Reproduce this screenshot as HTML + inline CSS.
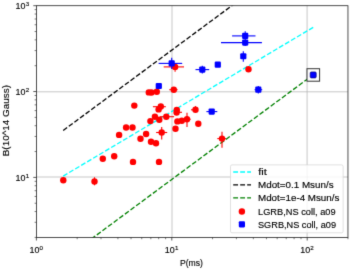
<!DOCTYPE html>
<html><head><meta charset="utf-8"><style>html,body{margin:0;padding:0;background:#fff;width:350px;height:269px;overflow:hidden}svg{display:block}</style></head>
<body>
<svg width="350" height="269" viewBox="0 0 350 269">
<defs><filter id="bl" filterUnits="userSpaceOnUse" x="0" y="0" width="350" height="269" color-interpolation-filters="sRGB"><feConvolveMatrix order="3" kernelMatrix="0.01134 0.08382 0.01134 0.08382 0.61935 0.08382 0.01134 0.08382 0.01134" edgeMode="duplicate"/></filter></defs>
<rect width="350" height="269" fill="#fff"/>
<g filter="url(#bl)">
<rect width="350" height="269" fill="#fff"/>
<defs><clipPath id="ax"><rect x="36.40" y="5.70" width="311.56" height="231.71"/></clipPath></defs>
<line x1="172.00" y1="5.70" x2="172.00" y2="237.41" stroke="#b0b0b0" stroke-width="0.7"/>
<line x1="307.10" y1="5.70" x2="307.10" y2="237.41" stroke="#b0b0b0" stroke-width="0.7"/>
<line x1="36.40" y1="91.80" x2="347.96" y2="91.80" stroke="#b0b0b0" stroke-width="0.7"/>
<line x1="36.40" y1="177.00" x2="347.96" y2="177.00" stroke="#b0b0b0" stroke-width="0.7"/>
<g clip-path="url(#ax)">
<line x1="63.2" y1="176.1" x2="313.3" y2="27.3" stroke="#00ffff" stroke-width="1.3" stroke-dasharray="4.87,2.107"/>
<line x1="63.2" y1="130.45" x2="239.55" y2="0" stroke="#000" stroke-width="1.3" stroke-dasharray="4.87,2.107"/>
<line x1="63.2" y1="259.75" x2="313.3" y2="74.75" stroke="#008000" stroke-width="1.3" stroke-dasharray="4.87,2.107"/>
</g>
<line x1="191" y1="109.8" x2="195.5" y2="109.8" stroke="#ff0000" stroke-width="1.1"/>
<line x1="217.3" y1="138.6" x2="226" y2="138.6" stroke="#ff0000" stroke-width="1.1"/>
<line x1="152.9" y1="106.7" x2="165.8" y2="106.7" stroke="#ff0000" stroke-width="1.1"/>
<line x1="163.7" y1="66.9" x2="184" y2="66.9" stroke="#ff0000" stroke-width="1.1"/>
<line x1="156.1" y1="132.5" x2="167.2" y2="132.5" stroke="#ff0000" stroke-width="1.1"/>
<line x1="160" y1="116.7" x2="174.1" y2="116.7" stroke="#ff0000" stroke-width="1.1"/>
<line x1="176.8" y1="112.3" x2="182" y2="112.3" stroke="#ff0000" stroke-width="1.1"/>
<line x1="183.6" y1="119.2" x2="190.7" y2="119.2" stroke="#ff0000" stroke-width="1.1"/>
<line x1="169.3" y1="89.7" x2="177.6" y2="89.7" stroke="#ff0000" stroke-width="1.1"/>
<line x1="94.5" y1="177.3" x2="94.5" y2="185.3" stroke="#ff0000" stroke-width="1.1"/>
<line x1="161.7" y1="126.9" x2="161.7" y2="139.6" stroke="#ff0000" stroke-width="1.1"/>
<line x1="187" y1="112.8" x2="187" y2="126.9" stroke="#ff0000" stroke-width="1.1"/>
<line x1="222" y1="131.7" x2="222" y2="147.8" stroke="#ff0000" stroke-width="1.1"/>
<line x1="175.1" y1="66.9" x2="175.1" y2="71.7" stroke="#ff0000" stroke-width="1.1"/>
<line x1="195.5" y1="106.1" x2="195.5" y2="109.8" stroke="#ff0000" stroke-width="1.1"/>
<circle cx="63.3" cy="180.2" r="3.2" fill="#ff0000"/>
<circle cx="94.5" cy="181.5" r="3.2" fill="#ff0000"/>
<circle cx="102.8" cy="158.7" r="3.2" fill="#ff0000"/>
<circle cx="114.2" cy="156.2" r="3.2" fill="#ff0000"/>
<circle cx="133" cy="161.9" r="3.2" fill="#ff0000"/>
<circle cx="134.3" cy="105.6" r="3.2" fill="#ff0000"/>
<circle cx="126.1" cy="127.5" r="3.2" fill="#ff0000"/>
<circle cx="132.5" cy="127.5" r="3.2" fill="#ff0000"/>
<circle cx="119.1" cy="134.9" r="3.2" fill="#ff0000"/>
<circle cx="140.5" cy="138.7" r="3.2" fill="#ff0000"/>
<circle cx="146.1" cy="134" r="3.2" fill="#ff0000"/>
<circle cx="159" cy="161.9" r="3.2" fill="#ff0000"/>
<circle cx="151.0" cy="141.8" r="3.2" fill="#ff0000"/>
<circle cx="156.0" cy="143.3" r="3.2" fill="#ff0000"/>
<circle cx="161.7" cy="132.5" r="3.2" fill="#ff0000"/>
<circle cx="154.9" cy="116.7" r="3.2" fill="#ff0000"/>
<circle cx="159.3" cy="119.7" r="3.2" fill="#ff0000"/>
<circle cx="150.4" cy="121.1" r="3.2" fill="#ff0000"/>
<circle cx="166.3" cy="116.7" r="3.2" fill="#ff0000"/>
<circle cx="160.8" cy="106.5" r="3.2" fill="#ff0000"/>
<circle cx="158.6" cy="109.4" r="3.2" fill="#ff0000"/>
<circle cx="176.8" cy="110.0" r="3.2" fill="#ff0000"/>
<circle cx="176.6" cy="112.5" r="3.2" fill="#ff0000"/>
<circle cx="177.4" cy="121.4" r="3.2" fill="#ff0000"/>
<circle cx="181.8" cy="120.8" r="3.2" fill="#ff0000"/>
<circle cx="187" cy="119.2" r="3.2" fill="#ff0000"/>
<circle cx="175.5" cy="128.8" r="3.2" fill="#ff0000"/>
<circle cx="195.5" cy="109.7" r="3.2" fill="#ff0000"/>
<circle cx="198.3" cy="123.7" r="3.2" fill="#ff0000"/>
<circle cx="222" cy="138.6" r="3.2" fill="#ff0000"/>
<circle cx="175.1" cy="66.9" r="3.2" fill="#ff0000"/>
<circle cx="173.8" cy="89.7" r="3.2" fill="#ff0000"/>
<circle cx="148.8" cy="92.4" r="3.2" fill="#ff0000"/>
<circle cx="151.5" cy="92.5" r="3.2" fill="#ff0000"/>
<circle cx="156.8" cy="91.8" r="3.2" fill="#ff0000"/>
<circle cx="248.5" cy="69.2" r="3.2" fill="#ff0000"/>
<line x1="254.6" y1="89.7" x2="262.2" y2="89.7" stroke="#0000ff" stroke-width="1.1"/>
<line x1="158.6" y1="63.4" x2="182.2" y2="63.4" stroke="#0000ff" stroke-width="1.1"/>
<line x1="195.5" y1="69.6" x2="209.2" y2="69.6" stroke="#0000ff" stroke-width="1.1"/>
<line x1="232.1" y1="35.9" x2="255.5" y2="35.9" stroke="#0000ff" stroke-width="1.1"/>
<line x1="221" y1="42.6" x2="261.9" y2="42.6" stroke="#0000ff" stroke-width="1.1"/>
<line x1="206.4" y1="111.6" x2="217.3" y2="111.6" stroke="#0000ff" stroke-width="1.1"/>
<line x1="202.3" y1="65.8" x2="202.3" y2="73.4" stroke="#0000ff" stroke-width="1.1"/>
<line x1="258.3" y1="86.0" x2="258.3" y2="93.4" stroke="#0000ff" stroke-width="1.1"/>
<line x1="171.7" y1="57.8" x2="171.7" y2="68.9" stroke="#0000ff" stroke-width="1.1"/>
<line x1="245.2" y1="31.25" x2="245.2" y2="46.1" stroke="#0000ff" stroke-width="1.1"/>
<line x1="243.3" y1="51.3" x2="243.3" y2="61.8" stroke="#0000ff" stroke-width="1.1"/>
<rect x="307.0" y="68.7" width="12.6" height="12.5" fill="#fff" stroke="#333" stroke-width="1.0"/>
<rect x="310.20" y="71.95" width="6.0" height="6.0" rx="1.1" fill="#0000ff" stroke="#00007a" stroke-width="0.7"/>
<rect x="168.60" y="60.30" width="6.2" height="6.2" rx="1.1" fill="#0000ff"/>
<rect x="199.20" y="66.50" width="6.2" height="6.2" rx="1.1" fill="#0000ff"/>
<rect x="214.70" y="61.60" width="6.2" height="6.2" rx="1.1" fill="#0000ff"/>
<rect x="242.10" y="32.80" width="6.2" height="6.2" rx="1.1" fill="#0000ff"/>
<rect x="242.10" y="39.50" width="6.2" height="6.2" rx="1.1" fill="#0000ff"/>
<rect x="240.20" y="53.15" width="6.2" height="6.2" rx="1.1" fill="#0000ff"/>
<rect x="255.20" y="86.60" width="6.2" height="6.2" rx="1.1" fill="#0000ff"/>
<rect x="208.60" y="108.50" width="6.2" height="6.2" rx="1.1" fill="#0000ff"/>
<rect x="155.70" y="82.90" width="6.2" height="6.2" rx="1.1" fill="#0000ff"/>
<line x1="36.40" y1="237.41" x2="36.40" y2="240.51" stroke="#222" stroke-width="0.75"/>
<line x1="171.80" y1="237.41" x2="171.80" y2="240.51" stroke="#222" stroke-width="0.75"/>
<line x1="307.20" y1="237.41" x2="307.20" y2="240.51" stroke="#222" stroke-width="0.75"/>
<line x1="77.16" y1="237.41" x2="77.16" y2="239.21" stroke="#222" stroke-width="0.6"/>
<line x1="101.00" y1="237.41" x2="101.00" y2="239.21" stroke="#222" stroke-width="0.6"/>
<line x1="117.92" y1="237.41" x2="117.92" y2="239.21" stroke="#222" stroke-width="0.6"/>
<line x1="131.04" y1="237.41" x2="131.04" y2="239.21" stroke="#222" stroke-width="0.6"/>
<line x1="141.76" y1="237.41" x2="141.76" y2="239.21" stroke="#222" stroke-width="0.6"/>
<line x1="150.83" y1="237.41" x2="150.83" y2="239.21" stroke="#222" stroke-width="0.6"/>
<line x1="158.68" y1="237.41" x2="158.68" y2="239.21" stroke="#222" stroke-width="0.6"/>
<line x1="165.60" y1="237.41" x2="165.60" y2="239.21" stroke="#222" stroke-width="0.6"/>
<line x1="212.56" y1="237.41" x2="212.56" y2="239.21" stroke="#222" stroke-width="0.6"/>
<line x1="236.40" y1="237.41" x2="236.40" y2="239.21" stroke="#222" stroke-width="0.6"/>
<line x1="253.32" y1="237.41" x2="253.32" y2="239.21" stroke="#222" stroke-width="0.6"/>
<line x1="266.44" y1="237.41" x2="266.44" y2="239.21" stroke="#222" stroke-width="0.6"/>
<line x1="277.16" y1="237.41" x2="277.16" y2="239.21" stroke="#222" stroke-width="0.6"/>
<line x1="286.23" y1="237.41" x2="286.23" y2="239.21" stroke="#222" stroke-width="0.6"/>
<line x1="294.08" y1="237.41" x2="294.08" y2="239.21" stroke="#222" stroke-width="0.6"/>
<line x1="301.00" y1="237.41" x2="301.00" y2="239.21" stroke="#222" stroke-width="0.6"/>
<line x1="347.96" y1="237.41" x2="347.96" y2="239.21" stroke="#222" stroke-width="0.6"/>
<line x1="33.30" y1="177.40" x2="36.40" y2="177.40" stroke="#222" stroke-width="0.75"/>
<line x1="33.30" y1="91.55" x2="36.40" y2="91.55" stroke="#222" stroke-width="0.75"/>
<line x1="33.30" y1="5.70" x2="36.40" y2="5.70" stroke="#222" stroke-width="0.75"/>
<line x1="34.60" y1="237.41" x2="36.40" y2="237.41" stroke="#222" stroke-width="0.6"/>
<line x1="34.60" y1="222.29" x2="36.40" y2="222.29" stroke="#222" stroke-width="0.6"/>
<line x1="34.60" y1="211.56" x2="36.40" y2="211.56" stroke="#222" stroke-width="0.6"/>
<line x1="34.60" y1="203.24" x2="36.40" y2="203.24" stroke="#222" stroke-width="0.6"/>
<line x1="34.60" y1="196.45" x2="36.40" y2="196.45" stroke="#222" stroke-width="0.6"/>
<line x1="34.60" y1="190.70" x2="36.40" y2="190.70" stroke="#222" stroke-width="0.6"/>
<line x1="34.60" y1="185.72" x2="36.40" y2="185.72" stroke="#222" stroke-width="0.6"/>
<line x1="34.60" y1="181.33" x2="36.40" y2="181.33" stroke="#222" stroke-width="0.6"/>
<line x1="34.60" y1="151.56" x2="36.40" y2="151.56" stroke="#222" stroke-width="0.6"/>
<line x1="34.60" y1="136.44" x2="36.40" y2="136.44" stroke="#222" stroke-width="0.6"/>
<line x1="34.60" y1="125.71" x2="36.40" y2="125.71" stroke="#222" stroke-width="0.6"/>
<line x1="34.60" y1="117.39" x2="36.40" y2="117.39" stroke="#222" stroke-width="0.6"/>
<line x1="34.60" y1="110.60" x2="36.40" y2="110.60" stroke="#222" stroke-width="0.6"/>
<line x1="34.60" y1="104.85" x2="36.40" y2="104.85" stroke="#222" stroke-width="0.6"/>
<line x1="34.60" y1="99.87" x2="36.40" y2="99.87" stroke="#222" stroke-width="0.6"/>
<line x1="34.60" y1="95.48" x2="36.40" y2="95.48" stroke="#222" stroke-width="0.6"/>
<line x1="34.60" y1="65.71" x2="36.40" y2="65.71" stroke="#222" stroke-width="0.6"/>
<line x1="34.60" y1="50.59" x2="36.40" y2="50.59" stroke="#222" stroke-width="0.6"/>
<line x1="34.60" y1="39.86" x2="36.40" y2="39.86" stroke="#222" stroke-width="0.6"/>
<line x1="34.60" y1="31.54" x2="36.40" y2="31.54" stroke="#222" stroke-width="0.6"/>
<line x1="34.60" y1="24.75" x2="36.40" y2="24.75" stroke="#222" stroke-width="0.6"/>
<line x1="34.60" y1="19.00" x2="36.40" y2="19.00" stroke="#222" stroke-width="0.6"/>
<line x1="34.60" y1="14.02" x2="36.40" y2="14.02" stroke="#222" stroke-width="0.6"/>
<line x1="34.60" y1="9.63" x2="36.40" y2="9.63" stroke="#222" stroke-width="0.6"/>
<rect x="36.40" y="5.70" width="311.56" height="231.71" fill="none" stroke="#222" stroke-width="0.8"/>
<rect x="230.5" y="164.9" width="112.6" height="67.9" rx="1.5" fill="#fff" fill-opacity="0.8" stroke="#d5d5d5" stroke-width="0.75"/>
<line x1="233.2" y1="172" x2="251" y2="172" stroke="#00ffff" stroke-width="1.3" stroke-dasharray="4.87,2.107"/>
<line x1="233.2" y1="184.8" x2="251" y2="184.8" stroke="#000" stroke-width="1.3" stroke-dasharray="4.87,2.107"/>
<line x1="233.2" y1="197.8" x2="251" y2="197.8" stroke="#008000" stroke-width="1.3" stroke-dasharray="4.87,2.107"/>
<circle cx="241.9" cy="211.5" r="3.2" fill="#ff0000"/>
<rect x="238.80" y="221.20" width="6.2" height="6.2" rx="1.1" fill="#0000ff"/>
<text x="258.2" y="175.0" font-size="9.3" text-anchor="start" font-family="Liberation Sans, sans-serif" fill="#000" stroke="#000" stroke-width="0.14" textLength="8.6" lengthAdjust="spacingAndGlyphs" >fit</text>
<text x="258.0" y="187.9" font-size="9.3" text-anchor="start" font-family="Liberation Sans, sans-serif" fill="#000" stroke="#000" stroke-width="0.14" textLength="75.6" lengthAdjust="spacingAndGlyphs" >Mdot=0.1 Msun/s</text>
<text x="258.0" y="200.9" font-size="9.3" text-anchor="start" font-family="Liberation Sans, sans-serif" fill="#000" stroke="#000" stroke-width="0.14" textLength="81.4" lengthAdjust="spacingAndGlyphs" >Mdot=1e-4 Msun/s</text>
<text x="258.0" y="214.6" font-size="9.3" text-anchor="start" font-family="Liberation Sans, sans-serif" fill="#000" stroke="#000" stroke-width="0.14" textLength="77.6" lengthAdjust="spacingAndGlyphs" >LGRB,NS coll, a09</text>
<text x="258.0" y="227.5" font-size="9.3" text-anchor="start" font-family="Liberation Sans, sans-serif" fill="#000" stroke="#000" stroke-width="0.14" textLength="78.0" lengthAdjust="spacingAndGlyphs" >SGRB,NS coll, a09</text>
<text x="191.5" y="265.8" font-size="9.3" text-anchor="middle" font-family="Liberation Sans, sans-serif" fill="#000" stroke="#000" stroke-width="0.14" textLength="23.0" lengthAdjust="spacingAndGlyphs" >P(ms)</text>
<text x="0" y="0" font-size="9.6" font-family="Liberation Sans, sans-serif" fill="#000" stroke="#000" stroke-width="0.14" text-anchor="middle" textLength="71.3" lengthAdjust="spacingAndGlyphs" transform="translate(9.3,120.6) rotate(-90)">B(10^14 Gauss)</text>
<text x="29.44" y="253" font-size="9.6" font-family="Liberation Sans, sans-serif" fill="#000" stroke="#000" stroke-width="0.14" textLength="9.93" lengthAdjust="spacingAndGlyphs">10</text>
<text x="39.52" y="250" font-size="6.2" font-family="Liberation Sans, sans-serif" fill="#000" stroke="#000" stroke-width="0.14">0</text>
<text x="164.84" y="253" font-size="9.6" font-family="Liberation Sans, sans-serif" fill="#000" stroke="#000" stroke-width="0.14" textLength="9.93" lengthAdjust="spacingAndGlyphs">10</text>
<text x="174.92" y="250" font-size="6.2" font-family="Liberation Sans, sans-serif" fill="#000" stroke="#000" stroke-width="0.14">1</text>
<text x="300.24" y="253" font-size="9.6" font-family="Liberation Sans, sans-serif" fill="#000" stroke="#000" stroke-width="0.14" textLength="9.93" lengthAdjust="spacingAndGlyphs">10</text>
<text x="310.32" y="250" font-size="6.2" font-family="Liberation Sans, sans-serif" fill="#000" stroke="#000" stroke-width="0.14">2</text>
<text x="15.57" y="181" font-size="9.6" font-family="Liberation Sans, sans-serif" fill="#000" stroke="#000" stroke-width="0.14" textLength="9.93" lengthAdjust="spacingAndGlyphs">10</text>
<text x="25.65" y="178" font-size="6.2" font-family="Liberation Sans, sans-serif" fill="#000" stroke="#000" stroke-width="0.14">1</text>
<text x="15.57" y="95" font-size="9.6" font-family="Liberation Sans, sans-serif" fill="#000" stroke="#000" stroke-width="0.14" textLength="9.93" lengthAdjust="spacingAndGlyphs">10</text>
<text x="25.65" y="92" font-size="6.2" font-family="Liberation Sans, sans-serif" fill="#000" stroke="#000" stroke-width="0.14">2</text>
<text x="15.57" y="9" font-size="9.6" font-family="Liberation Sans, sans-serif" fill="#000" stroke="#000" stroke-width="0.14" textLength="9.93" lengthAdjust="spacingAndGlyphs">10</text>
<text x="25.65" y="6" font-size="6.2" font-family="Liberation Sans, sans-serif" fill="#000" stroke="#000" stroke-width="0.14">3</text>
</g>
</svg>
</body></html>
